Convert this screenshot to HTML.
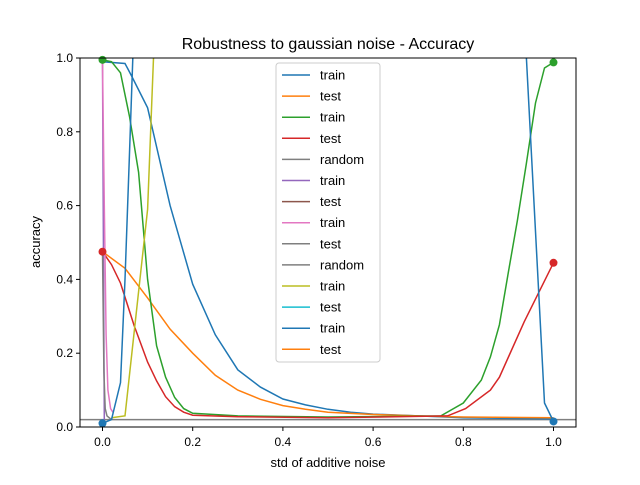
<!DOCTYPE html>
<html><head><meta charset="utf-8"><style>
body{margin:0;background:#fff}
svg{font-family:"Liberation Sans","DejaVu Sans",sans-serif}
</style></head><body>
<svg id="chart" width="640" height="480" viewBox="0 0 640 480">
<rect width="640" height="480" fill="#fff"/>
<text x="328" y="49" font-size="16" text-anchor="middle">Robustness to gaussian noise - Accuracy</text>
<defs><clipPath id="clip"><rect x="80" y="58" width="496" height="369"/></clipPath></defs>
<g id="series" clip-path="url(#clip)"></g>
<g id="markers"></g>
<rect x="80" y="58" width="496" height="369" fill="none" stroke="#000" stroke-width="1"/>
<g id="xticks" font-size="12"></g>
<g id="yticks" font-size="12"></g>
<text x="328" y="467" font-size="13" text-anchor="middle">std of additive noise</text>
<text x="40" y="242" font-size="13" text-anchor="middle" transform="rotate(-90 40 242)">accuracy</text>
<g id="legend"></g>
</svg>
<script>
const xTicks=[0,0.2,0.4,0.6,0.8,1.0];
const xTickLabels=["0.0","0.2","0.4","0.6","0.8","1.0"];
const yTicks=[0,0.2,0.4,0.6,0.8,1.0];
const yTickLabels=["0.0","0.2","0.4","0.6","0.8","1.0"];
const seriesNames=["train","test","train","test","random","train","test","train","test","random","train","test","train","test"];
const seriesColors=["#1f77b4","#ff7f0e","#2ca02c","#d62728","#7f7f7f","#9467bd","#8c564b","#e377c2","#7f7f7f","#7f7f7f","#bcbd22","#17becf","#1f77b4","#ff7f0e"];
const blueTrainX=[0,0.05,0.065,0.1,0.15,0.2,0.25,0.3,0.35,0.4,0.45,0.5,0.55,0.6,0.7,0.8,1.0];
const blueTrainY=[0.99,0.985,0.95,0.865,0.6,0.387,0.25,0.155,0.108,0.076,0.06,0.048,0.04,0.035,0.03,0.025,0.022];
const orangeTestX=[0,0.05,0.1,0.15,0.2,0.25,0.3,0.35,0.4,0.45,0.5,0.6,0.7,0.8,1.0];
const orangeTestY=[0.475,0.43,0.35,0.265,0.2,0.14,0.1,0.075,0.058,0.048,0.04,0.034,0.03,0.027,0.025];
const greenTrainX=[0,0.02,0.04,0.06,0.08,0.1,0.12,0.14,0.16,0.18,0.2,0.3,0.5,0.75,0.8,0.84,0.86,0.88,0.9,0.92,0.94,0.96,0.98,1.0];
const greenTrainY=[0.995,0.99,0.96,0.84,0.69,0.4,0.22,0.135,0.08,0.05,0.037,0.03,0.027,0.03,0.065,0.127,0.19,0.277,0.42,0.56,0.715,0.878,0.973,0.988];
const redTestX=[0,0.02,0.04,0.07,0.1,0.12,0.14,0.16,0.18,0.2,0.3,0.5,0.765,0.805,0.86,0.88,0.935,1.0];
const redTestY=[0.475,0.44,0.39,0.275,0.176,0.125,0.082,0.055,0.04,0.032,0.028,0.025,0.03,0.05,0.1,0.135,0.285,0.445];
const randomX=[-0.1,1.1];
const randomY=[0.02,0.02];
const purpleX=[0,0.002,0.004];
const purpleY=[0.99,0.5,0.02];
const grayTestX=[0,0.003,0.006,0.01,0.02];
const grayTestY=[0.475,0.15,0.05,0.03,0.02];
const pinkX=[0,0.004,0.008,0.012,0.018,0.023];
const pinkY=[0.99,0.6,0.25,0.1,0.05,0.04];
const oliveX=[0.02,0.05,0.1,0.113,0.13];
const oliveY=[0.025,0.03,0.59,1.0,1.3];
const blue2X=[0,0.02,0.04,0.05,0.06,0.07,0.93,0.94,0.98,1.0];
const blue2Y=[0.01,0.02,0.12,0.4,0.75,1.1,1.3,1.0,0.065,0.015];
const markerX=[0,1,0,1,0,1];
const markerY=[0.01,0.015,0.995,0.988,0.475,0.445];
const markerColors=["#1f77b4","#1f77b4","#2ca02c","#2ca02c","#d62728","#d62728"];

const X=v=>102.5+(v)*451;
const Y=v=>427-v*369;
const NS="http://www.w3.org/2000/svg";
function line(g,xs,ys,color,name){
  const p=document.createElementNS(NS,"polyline");
  p.setAttribute("points",xs.map((x,i)=>X(x).toFixed(1)+","+Y(ys[i]).toFixed(1)).join(" "));
  p.setAttribute("fill","none");p.setAttribute("stroke",color);p.setAttribute("stroke-width","1.5");
  
  
  g.appendChild(p);
}
const sg=document.getElementById("series");
line(sg,randomX,randomY,"#7f7f7f","random-line");
line(sg,blueTrainX,blueTrainY,"#1f77b4","train-series-1");
line(sg,orangeTestX,orangeTestY,"#ff7f0e","test-series-1");
line(sg,greenTrainX,greenTrainY,"#2ca02c","train-series-2");
line(sg,redTestX,redTestY,"#d62728","test-series-2");
line(sg,purpleX,purpleY,"#9467bd","train-series-3");
line(sg,grayTestX,grayTestY,"#7f7f7f","test-series-4");
line(sg,pinkX,pinkY,"#e377c2","train-series-4");
line(sg,oliveX,oliveY,"#bcbd22","train-series-5");
line(sg,blue2X,blue2Y,"#1f77b4","train-series-6");
const mg=document.getElementById("markers");
markerX.forEach((x,i)=>{
  const c=document.createElementNS(NS,"circle");
  c.setAttribute("cx",X(x));c.setAttribute("cy",Y(markerY[i]));c.setAttribute("r","4");c.setAttribute("fill",markerColors[i]);
  
  
  mg.appendChild(c);
});
const xg=document.getElementById("xticks");
xTicks.forEach((t,i)=>{
  const l=document.createElementNS(NS,"line");
  l.setAttribute("x1",X(t));l.setAttribute("x2",X(t));l.setAttribute("y1",427);l.setAttribute("y2",431);l.setAttribute("stroke","#000");
  
  
  xg.appendChild(l);
  const tx=document.createElementNS(NS,"text");
  tx.setAttribute("x",X(t));tx.setAttribute("y",446);tx.setAttribute("text-anchor","middle");tx.textContent=xTickLabels[i];
  
  
  xg.appendChild(tx);
});
const yg=document.getElementById("yticks");
yTicks.forEach((t,i)=>{
  const l=document.createElementNS(NS,"line");
  l.setAttribute("x1",76);l.setAttribute("x2",80);l.setAttribute("y1",Y(t));l.setAttribute("y2",Y(t));l.setAttribute("stroke","#000");
  
  
  yg.appendChild(l);
  const tx=document.createElementNS(NS,"text");
  tx.setAttribute("x",73);tx.setAttribute("y",Y(t)+4);tx.setAttribute("text-anchor","end");tx.textContent=yTickLabels[i];
  
  
  yg.appendChild(tx);
});
const lg=document.getElementById("legend");
const box=document.createElementNS(NS,"rect");
box.setAttribute("x",276);box.setAttribute("y",63);box.setAttribute("width",104);box.setAttribute("height",299);box.setAttribute("rx",3);
box.setAttribute("fill","#fff");box.setAttribute("fill-opacity","0.8");box.setAttribute("stroke","#ccc");


lg.appendChild(box);
seriesNames.forEach((n,i)=>{
  const y=75+i*21.1;
  const l=document.createElementNS(NS,"line");
  l.setAttribute("x1",282);l.setAttribute("x2",310);l.setAttribute("y1",y);l.setAttribute("y2",y);l.setAttribute("stroke",seriesColors[i]);l.setAttribute("stroke-width","1.5");
  
  
  lg.appendChild(l);
  const tx=document.createElementNS(NS,"text");
  tx.setAttribute("x",320);tx.setAttribute("y",y+4.5);tx.setAttribute("font-size","13");tx.textContent=n;
  
  
  lg.appendChild(tx);
});
</script>
</body></html>
